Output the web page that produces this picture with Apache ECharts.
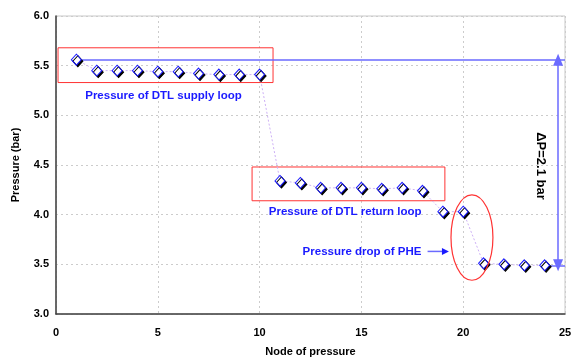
<!DOCTYPE html>
<html>
<head>
<meta charset="utf-8">
<script src="https://cdn.jsdelivr.net/npm/echarts@6/dist/echarts.min.js"></script>
<style>
  html, body { margin: 0; padding: 0; background: #fff; }
  #chart { width: 577px; height: 362px; }
</style>
</head>
<body>
<div id="chart"></div>
<script>
// node number and pressure
var nodes = [1, 2, 3, 4, 5, 6, 7, 8, 9, 10, 11, 12, 13, 14, 15, 16, 17, 18, 19, 20, 21, 22, 23, 24]
var pressure = [5.56, 5.45, 5.45, 5.45, 5.44, 5.44, 5.42, 5.41, 5.41, 5.41,
  4.34, 4.32, 4.27, 4.27, 4.27, 4.26, 4.27, 4.24, 4.03, 4.03, 3.51, 3.50, 3.49, 3.49]
var xTicks = [0, 5, 10, 15, 20, 25]
var yTicks = [3.0, 3.5, 4.0, 4.5, 5.0, 5.5, 6.0]

var blue = '#1a1aff'
var red = '#ff3333'
var font = 'Liberation Sans, Arial, sans-serif'

var chart = echarts.init(document.getElementById('chart'))

var points = nodes.map(function (n, i) { return [n, pressure[i]] })
var pMax = pressure[0]
var pMin = pressure[pressure.length - 1]

var option = {
  animation: false,
  grid: {
    left: 56, right: 12, top: 16, bottom: 46,
    show: true, borderColor: '#c8c8c8', borderWidth: 1
  },
  xAxis: {
    type: 'value',
    min: xTicks[0], max: xTicks[xTicks.length - 1], interval: 5,
    name: 'Node of pressure',
    nameLocation: 'middle',
    nameGap: 32,
    nameTextStyle: { fontFamily: font, fontWeight: 'bold', fontSize: 11, color: '#000' },
    axisLine: { lineStyle: { color: '#404040', width: 1.5 } },
    axisTick: { show: false },
    axisLabel: { fontFamily: font, fontWeight: 'bold', fontSize: 11, color: '#000', margin: 13 },
    splitLine: { lineStyle: { type: [2, 3], color: '#cccccc' } }
  },
  yAxis: {
    type: 'value',
    min: yTicks[0], max: yTicks[yTicks.length - 1], interval: 0.5,
    name: 'Pressure (bar)',
    nameLocation: 'middle',
    nameGap: 35,
    nameTextStyle: { fontFamily: font, fontWeight: 'bold', fontSize: 11, color: '#000' },
    axisLine: { show: true, lineStyle: { color: '#404040', width: 1.5 } },
    axisTick: { show: false },
    axisLabel: {
      fontFamily: font, fontWeight: 'bold', fontSize: 11, color: '#000', margin: 7,
      formatter: function (v) { return v.toFixed(1) }
    },
    splitLine: { lineStyle: { type: [2, 3], color: '#cccccc' } }
  },
  series: [
    {
      type: 'line',
      data: points,
      symbol: 'diamond',
      symbolSize: [10, 11],
      z: 5,
      lineStyle: { color: '#cdb0f5', width: 1, type: [2, 2] },
      itemStyle: {
        color: '#fff', borderColor: blue, borderWidth: 1,
        shadowColor: '#000', shadowBlur: 0, shadowOffsetX: 1.5, shadowOffsetY: 1.5
      },
      markArea: {
        silent: true,
        itemStyle: { color: 'rgba(0,0,0,0)', borderColor: red, borderWidth: 1 },
        data: [
          [{ coord: [0.1, 5.68] }, { coord: [10.66, 5.33] }],
          [{ coord: [9.63, 4.48] }, { coord: [19.1, 4.14] }]
        ]
      },
      markLine: {
        silent: true,
        symbol: 'none',
        lineStyle: { color: '#6a6aff', type: 'solid', width: 1.5 },
        label: { show: false },
        data: [
          [{ coord: [1, pMax] }, { coord: [25, pMax] }],
          [{ coord: [24, pMin] }, { coord: [25, pMin] }],
          [
            { coord: [24.66, pMax], symbol: 'triangle', symbolSize: [10, 12] },
            { coord: [24.66, pMin], symbol: 'triangle', symbolSize: [10, 12] }
          ]
        ]
      }
    }
  ]
}
chart.setOption(option)

// annotations placed from data coordinates
function px(x, y) { return chart.convertToPixel({ gridIndex: 0 }, [x, y]) }

var c = px(20.43, 3.77)
var e = px(21.46, 3.34)
var t1 = px(5.28, 5.20)
var t2 = px(14.2, 4.03)
var t3 = px(17.95, 3.63)
var a0 = px(18.25, 3.63)
var a1 = px(19.3, 3.63)
var dp = px(23.8, 4.49)

var labelStyle = { fill: blue, font: 'bold 11.5px ' + font, textAlign: 'center', textVerticalAlign: 'middle' }

chart.setOption({
  graphic: [
    {
      type: 'ellipse',
      shape: { cx: c[0], cy: c[1], rx: e[0] - c[0], ry: e[1] - c[1] },
      style: { fill: 'none', stroke: red, lineWidth: 1.2 }, z: 10
    },
    { type: 'text', x: t1[0], y: t1[1], style: Object.assign({ text: 'Pressure of DTL supply loop' }, labelStyle) },
    { type: 'text', x: t2[0], y: t2[1], style: Object.assign({ text: 'Pressure of DTL return loop' }, labelStyle) },
    { type: 'text', x: t3[0], y: t3[1], style: Object.assign({ text: 'Pressure drop of PHE' }, labelStyle, { textAlign: 'right' }) },
    {
      type: 'line',
      shape: { x1: a0[0], y1: a0[1], x2: a1[0] - 6, y2: a1[1] },
      style: { stroke: '#6a6aff', lineWidth: 1.5 }
    },
    {
      type: 'polygon',
      shape: { points: [[a1[0], a1[1]], [a1[0] - 7, a1[1] - 3.5], [a1[0] - 7, a1[1] + 3.5]] },
      style: { fill: blue }
    },
    {
      type: 'text', x: dp[0], y: dp[1], rotation: -Math.PI / 2,
      style: { text: '\u0394P=2.1 bar', fill: '#000', font: 'bold 13px ' + font, textAlign: 'center', textVerticalAlign: 'middle' }
    }
  ]
})
</script>
</body>
</html>
